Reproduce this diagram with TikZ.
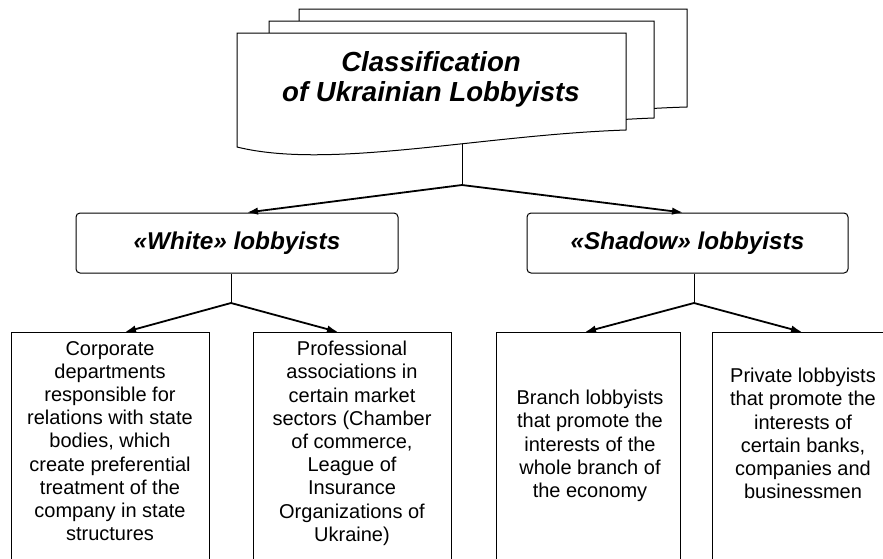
\documentclass[tikz,border=0pt]{standalone}
\usepackage{fontspec}
\setmainfont{Liberation Sans}
\usetikzlibrary{arrows.meta}
\begin{document}
\begin{tikzpicture}[x=1pt,y=-1pt,
  doc/.style={draw, fill=white, line width=1pt, line join=miter},
  rbox/.style={draw, line width=1pt, rounded corners=4pt, minimum height=60pt, inner sep=0pt,
               font=\fontsize{24.3}{28}\selectfont\bfseries\itshape},
  tallbox/.style={draw, line width=1pt, minimum height=240pt, anchor=north, inner sep=0pt},
  btext/.style={align=center, inner sep=0pt, anchor=north, font=\fontsize{20}{23.2}\selectfont},
  arr/.style={line width=1.8pt, -{Latex[length=11pt,width=7.5pt]}},
  conn/.style={line width=1pt}]
\useasboundingbox (0,0) rectangle (883,558);
\clip (0,0) rectangle (883,558);
% stacked documents
\draw[doc] (299,9) -- (687,9) -- (687,107) .. controls (542,111) and (392,146) .. (299,123) -- cycle;
\draw[doc] (269,21) -- (654,21) -- (654,118) .. controls (512,123) and (362,158) .. (269,135) -- cycle;
\draw[doc] (237,33) -- (626,33) -- (626,130) .. controls (480,135) and (330,170) .. (237,147) -- cycle;
\node[align=center, inner sep=0pt, font=\fontsize{27.6}{30}\selectfont\bfseries\itshape] (title) at (431,79)
  {Classification\\of Ukrainian Lobbyists};
\coordinate (docb) at (462,144);
\coordinate (j0) at (462,185);
% second level
\node[rbox, minimum width=322pt] (white) at (237,243) {«White» lobbyists};
\node[rbox, minimum width=321pt] (shadow) at (687.5,243) {«Shadow» lobbyists};
\draw[conn] (docb) -- (j0);
\draw[arr] (j0) -- ([xshift=10pt]white.north);
\draw[arr] (j0) -- ([xshift=-4.5pt]shadow.north);
% third level
\coordinate (j1) at (231,303);
\coordinate (j2) at (694,303);
\node[tallbox, minimum width=198pt] (b1) at (110,332) {};
\node[tallbox, minimum width=198pt] (b2) at (352,332) {};
\node[tallbox, minimum width=184pt] (b3) at (588,332) {};
\node[tallbox, minimum width=184pt] (b4) at (804,332) {};
\draw[conn] (j1 |- white.south) -- (j1);
\draw[conn] (j2 |- shadow.south) -- (j2);
\draw[arr] (j1) -- ([xshift=15pt]b1.north);
\draw[arr] (j1) -- ([xshift=-14pt]b2.north);
\draw[arr] (j2) -- ([xshift=-3pt]b3.north);
\draw[arr] (j2) -- ([xshift=-2pt]b4.north);
\node[btext] (t1) at (110,341) {Corporate\\departments\\responsible for\\relations with state\\bodies, which\\create preferential\\treatment of the\\company in state\\structures};
\node[btext] (t2) at (352,341) {Professional\\associations in\\certain market\\sectors (Chamber\\of commerce,\\League of\\Insurance\\Organizations of\\Ukraine)};
\node[btext] (t3) at (590,390) {Branch lobbyists\\that promote the\\interests of the\\whole branch of\\the economy};
\node[btext] (t4) at (803,368) {Private lobbyists\\that promote the\\interests of\\certain banks,\\companies and\\businessmen};
\end{tikzpicture}
\end{document}
